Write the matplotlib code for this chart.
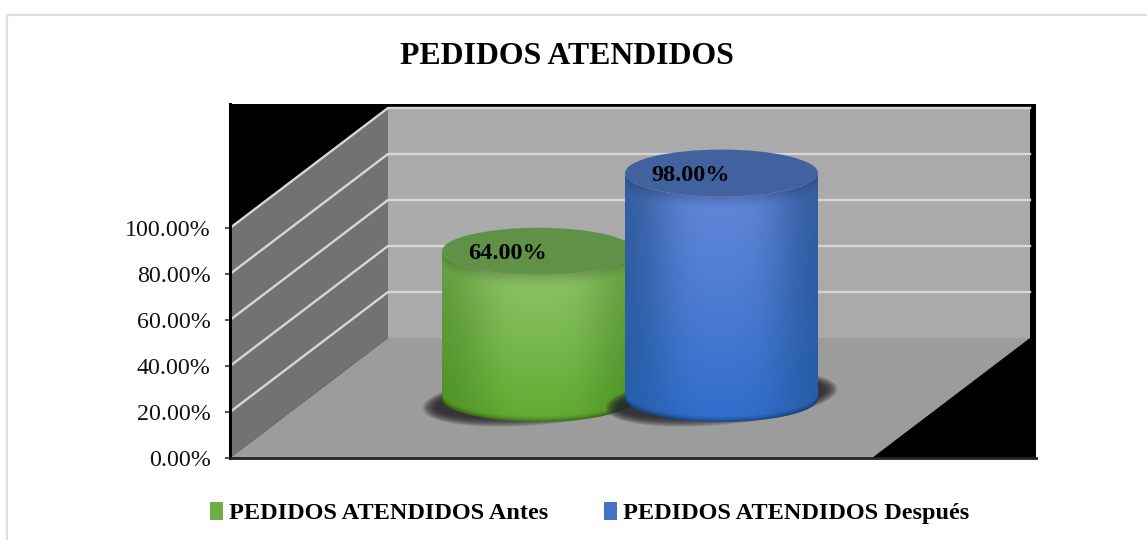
import numpy as np
import matplotlib
matplotlib.use("Agg")
import matplotlib.pyplot as plt
from matplotlib.patches import Polygon, Rectangle, PathPatch, Ellipse
from matplotlib.path import Path
from matplotlib.colors import to_rgb

# ---- data ----
title = "PEDIDOS ATENDIDOS"
series_names = ["PEDIDOS ATENDIDOS Antes", "PEDIDOS ATENDIDOS Después"]
values = [64.0, 98.0]
value_labels = ["64.00%", "98.00%"]
y_ticks = [0, 20, 40, 60, 80, 100]
y_tick_labels = ["0.00%", "20.00%", "40.00%", "60.00%", "80.00%", "100.00%"]

# ---- style ----
W, H = 1147, 540
L, R, B, T = 230, 1036, 458, 104      # plot box in pixels
PX_PER_PCT = 2.3
DEPTH_X, DEPTH_Y = 158, 120 / PX_PER_PCT   # full depth shift (px, % units)
FLOOR_W = 642
serif = "Liberation Serif"

fig = plt.figure(figsize=(W / 100, H / 100), dpi=100, facecolor="white")
fig.add_artist(plt.Line2D([7.5 / W, 7.5 / W, 1], [0, 1 - 14.5 / H, 1 - 14.5 / H],
                          color="#dedede", lw=1.6))

ax = fig.add_axes([L / W, 1 - B / H, (R - L) / W, (B - T) / H], facecolor="black")
ax.set_xlim(L, R)
ax.set_ylim(0, (B - T) / PX_PER_PCT)


def proj(x, depth, v):
    return x + depth * DEPTH_X, v + depth * DEPTH_Y


# walls and floor
p00 = proj(L, 0, 0); p10 = proj(L, 1, 0); p01 = proj(L, 0, 100); p11 = proj(L, 1, 100)
ax.add_patch(Polygon([p00, p10, p11, p01], fc="#727272", ec="none", zorder=1))
ax.add_patch(Polygon([p10, (p10[0] + FLOOR_W, p10[1]), (p11[0] + FLOOR_W, p11[1]), p11],
                     fc="#aaaaaa", ec="none", zorder=1))
ax.add_patch(Polygon([p00, (L + FLOOR_W, 0), (p10[0] + FLOOR_W, p10[1]), p10],
                     fc="#9c9c9c", ec="none", zorder=1))
for t in y_ticks[1:]:
    a = proj(L, 0, t); b = proj(L, 1, t)
    ax.plot([a[0], b[0], b[0] + FLOOR_W], [a[1], b[1], b[1]], color="#d6d6d6",
            lw=1.7, zorder=2, solid_joinstyle="miter")


def cylinder(cx, value, rx, ry_px, top_col, mid_hi, low_hi, edge_top, edge_low, zb):
    base = proj(cx - DEPTH_X * 0.496, 0.496, 0)
    y0 = base[1]
    y1 = y0 + value
    ry = ry_px / PX_PER_PCT
    # blurred, slightly tilted shadow on the floor
    tilt = np.radians(5)
    s = np.linspace(0, 2 * np.pi, 160)
    for k in np.linspace(1.0, 0.0, 16):
        ex = (rx + 7 + 13 * k) * np.cos(s)
        ey = (ry_px - 6 + 9 * k) * np.sin(s)
        px = cx + ex * np.cos(tilt) - ey * np.sin(tilt)
        py = ex * np.sin(tilt) + ey * np.cos(tilt)
        ax.add_patch(Polygon(np.c_[px, y0 + py / PX_PER_PCT], fc="#26222a", ec="none",
                             alpha=0.10, zorder=zb))
    # body with shading
    th = np.linspace(np.pi, 2 * np.pi, 90)
    bx = cx + rx * np.cos(th)
    by = y0 + ry * np.sin(th)
    tx = bx[::-1]
    ty = np.full_like(tx, y1) + ry * np.sin(th[::-1])
    verts = np.vstack([np.c_[bx, by], np.c_[tx, ty], [[bx[0], by[0]]]])
    body = Path(verts, closed=False)
    nx, ny = 260, 400
    xs = np.linspace(-1, 1, nx)[None, :]
    yy = np.linspace(y0 - ry, y1 + ry, ny)[:, None]
    curve = -ry * np.sqrt(np.clip(1 - xs ** 2, 0, 1))
    us = np.clip((yy - y0 - curve) / value, 0, 1)   # 0 bottom edge, 1 top rim
    hl = np.exp(-(np.abs(xs) / 0.72) ** 3.2)
    c_low, c_mid = np.array(to_rgb(low_hi)), np.array(to_rgb(mid_hi))
    e_low, e_top = np.array(to_rgb(edge_low)), np.array(to_rgb(edge_top))
    hi = c_low + (c_mid - c_low) * (us[..., None] ** 0.9)
    ed = e_low + (e_top - e_low) * us[..., None]
    img = ed + (hi - ed) * hl[..., None]
    band_top = 14 / PX_PER_PCT / value
    band_low = 6 / PX_PER_PCT / value
    rim = np.clip((us - (1 - band_top)) / band_top, 0, 1)[..., None] ** 1.4
    low = np.clip((band_low - us) / band_low, 0, 1)[..., None] ** 1.5
    img = img * (1 - 0.18 * rim) * (1 - 0.35 * low)
    im = ax.imshow(np.clip(img, 0, 1), extent=(cx - rx, cx + rx, y0 - ry, y1 + ry),
                   origin="lower", aspect="auto", interpolation="bilinear", zorder=zb + 1)
    im.set_clip_path(PathPatch(body, transform=ax.transData))
    # top face
    ax.add_patch(Ellipse((cx, y1), 2 * rx, 2 * ry, fc=top_col, ec="none", zorder=zb + 2))
    return cx, y1


tops = []
tops.append(cylinder(538.5, values[0], 96.5, 23.5, "#5f9146", "#8cc366", "#5fa92f",
                     "#649e42", "#4f9226", 3))
tops.append(cylinder(721.5, values[1], 96.5, 23.5, "#41629f", "#6286d8", "#2f6dcb",
                     "#335b9c", "#245ea8", 6))
ax.set_xlim(L, R)
ax.set_ylim(0, (B - T) / PX_PER_PCT)

for (cx, yt), lab in zip(tops, value_labels):
    ax.annotate(lab, (cx, yt), xytext=(-31, -2), textcoords="offset pixels",
                ha="center", va="center", family=serif, weight="bold",
                fontsize=17.5, color="black", zorder=10)

# axis
ax.set_xticks([])
ax.set_yticks(y_ticks)
ax.set_yticklabels(y_tick_labels, family=serif, fontsize=17.3, color="#111111")
ax.tick_params(axis="y", length=3.5, width=1.2, color="#333333", pad=10.5)
for s in ax.spines.values():
    s.set_visible(False)
ax.spines["left"].set_visible(True)
ax.spines["left"].set_color("black")
ax.spines["left"].set_linewidth(2.2)
ax.spines["bottom"].set_visible(True)
ax.spines["bottom"].set_color("#222222")
ax.spines["bottom"].set_linewidth(2)

fig.text(567 / W, 1 - 57 / H, title, ha="center", va="center",
         family=serif, weight="bold", fontsize=22.9, color="black")

handles = [Rectangle((0, 0), 1, 1, fc="#70ad47"), Rectangle((0, 0), 1, 1, fc="#4472c4")]
fig.legend(handles, series_names, loc="center", bbox_to_anchor=(589.5 / W, 1 - 513 / H),
           ncol=2, frameon=False, handlelength=0.55, handleheight=0.75, handletextpad=0.22,
           columnspacing=2.3, prop={"family": serif, "weight": "bold", "size": 17.5})

fig.savefig("out.png", dpi=100, facecolor="white")
